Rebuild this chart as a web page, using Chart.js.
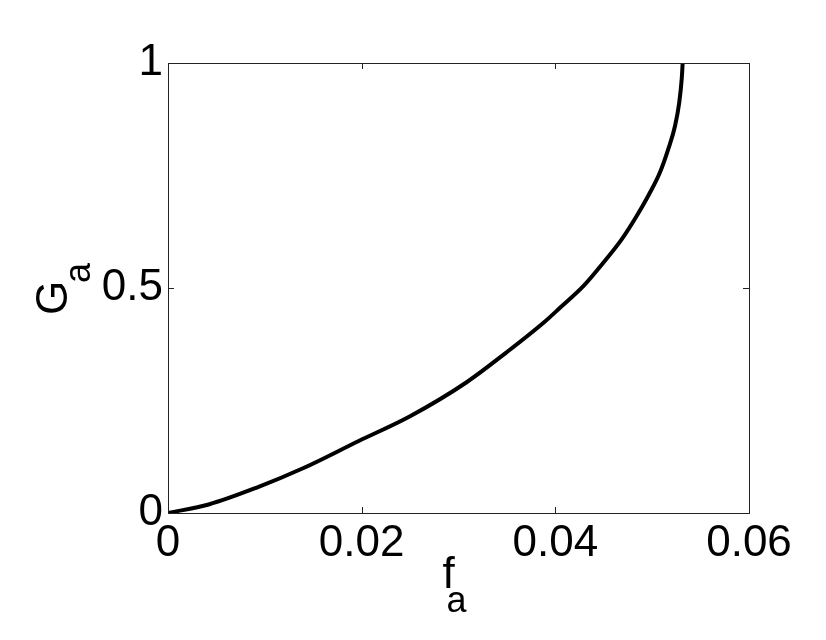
<!DOCTYPE html>
<html>
<head>
<meta charset="utf-8">
<title>G_a vs f_a</title>
<script src="https://cdn.jsdelivr.net/npm/chart.js@4"></script>
<style>
  html, body { margin: 0; padding: 0; background: #fff; }
  #wrap { width: 826px; height: 640px; }
</style>
</head>
<body>
<div id="wrap"><canvas id="chart" width="826" height="640"></canvas></div>
<script>
// curve
const fa = [0, 0.0042, 0.0091, 0.0140, 0.0197, 0.0250, 0.0308, 0.0349, 0.0389, 0.04048,
            0.04289, 0.04495, 0.04685, 0.04840, 0.04960, 0.05081, 0.05167, 0.05236, 0.05280,
            0.05305, 0.05315];
const Ga = [0, 0.019, 0.056, 0.100, 0.160, 0.215, 0.290, 0.356, 0.425, 0.456,
            0.504, 0.556, 0.608, 0.660, 0.705, 0.757, 0.809, 0.860, 0.913,
            0.964, 1.0];

const xTicks = [0, 0.02, 0.04, 0.06];
const yTicks = [0, 0.5, 1];
const xTickLabels = ['0', '0.02', '0.04', '0.06'];
const yTickLabels = ['0', '0.5', '1'];

const FONT = '"Liberation Sans", Arial, Helvetica, sans-serif';

const points = fa.map((x, i) => ({ x, y: Ga[i] }));

// box round the plot, inner ticks, and the axis titles with subscripts
const frame = {
    id: 'frame',
    afterDraw(chart) {
        const { ctx, chartArea: a, scales } = chart;
        const tl = 6;
        ctx.save();
        ctx.strokeStyle = '#222';
        ctx.lineWidth = 1;
        ctx.strokeRect(a.left + 0.5, a.top + 0.5, a.right - a.left, a.bottom - a.top);
        ctx.beginPath();
        xTicks.forEach(v => {
            const px = Math.round(scales.x.getPixelForValue(v)) + 0.5;
            ctx.moveTo(px, a.bottom); ctx.lineTo(px, a.bottom - tl);
            ctx.moveTo(px, a.top); ctx.lineTo(px, a.top + tl);
        });
        yTicks.forEach(v => {
            const py = Math.round(scales.y.getPixelForValue(v)) + 0.5;
            ctx.moveTo(a.left, py); ctx.lineTo(a.left + tl, py);
            ctx.moveTo(a.right, py); ctx.lineTo(a.right - tl, py);
        });
        ctx.stroke();

        ctx.fillStyle = '#000';
        ctx.textBaseline = 'alphabetic';
        ctx.textAlign = 'left';
        // x title: f_a
        const cx = (a.left + a.right) / 2;
        ctx.font = '44px ' + FONT;
        ctx.fillText('f', cx - 16, a.bottom + 75);
        ctx.font = '36px ' + FONT;
        ctx.fillText('a', cx - 12, a.bottom + 99);
        // y title: G_a, rotated
        ctx.translate(a.left - 101, 315);
        ctx.rotate(-Math.PI / 2);
        ctx.font = '44px ' + FONT;
        ctx.fillText('G', 0, 0);
        ctx.font = '36px ' + FONT;
        ctx.fillText('a', 32, 23);
        ctx.restore();
    }
};

new Chart(document.getElementById('chart').getContext('2d'), {
    type: 'scatter',
    data: {
        datasets: [{
            data: points,
            showLine: true,
            borderColor: '#000',
            borderWidth: 4,
            pointRadius: 0,
            cubicInterpolationMode: 'monotone',
            fill: false
        }]
    },
    options: {
        responsive: false,
        animation: false,
        layout: { padding: { left: 100, right: 77, top: 63, bottom: 40 } },
        plugins: { legend: { display: false }, tooltip: { enabled: false } },
        scales: {
            x: {
                type: 'linear',
                min: 0,
                max: 0.06,
                afterBuildTicks: s => { s.ticks = xTicks.map(value => ({ value })); },
                afterFit: s => { s.height = 87; },
                grid: { display: false, drawTicks: false },
                border: { display: false },
                ticks: {
                    color: '#000',
                    padding: 9,
                    maxRotation: 0,
                    font: { family: FONT, size: 44, lineHeight: 1 },
                    callback: (v) => xTickLabels[xTicks.indexOf(v)]
                }
            },
            y: {
                type: 'linear',
                min: 0,
                max: 1,
                afterBuildTicks: s => { s.ticks = yTicks.map(value => ({ value })); },
                afterFit: s => { s.width = 68; },
                grid: { display: false, drawTicks: false },
                border: { display: false },
                ticks: {
                    color: '#000',
                    padding: 5,
                    font: { family: FONT, size: 44, lineHeight: 1 },
                    callback: (v) => yTickLabels[yTicks.indexOf(v)]
                }
            }
        }
    },
    plugins: [frame]
});
</script>
</body>
</html>
